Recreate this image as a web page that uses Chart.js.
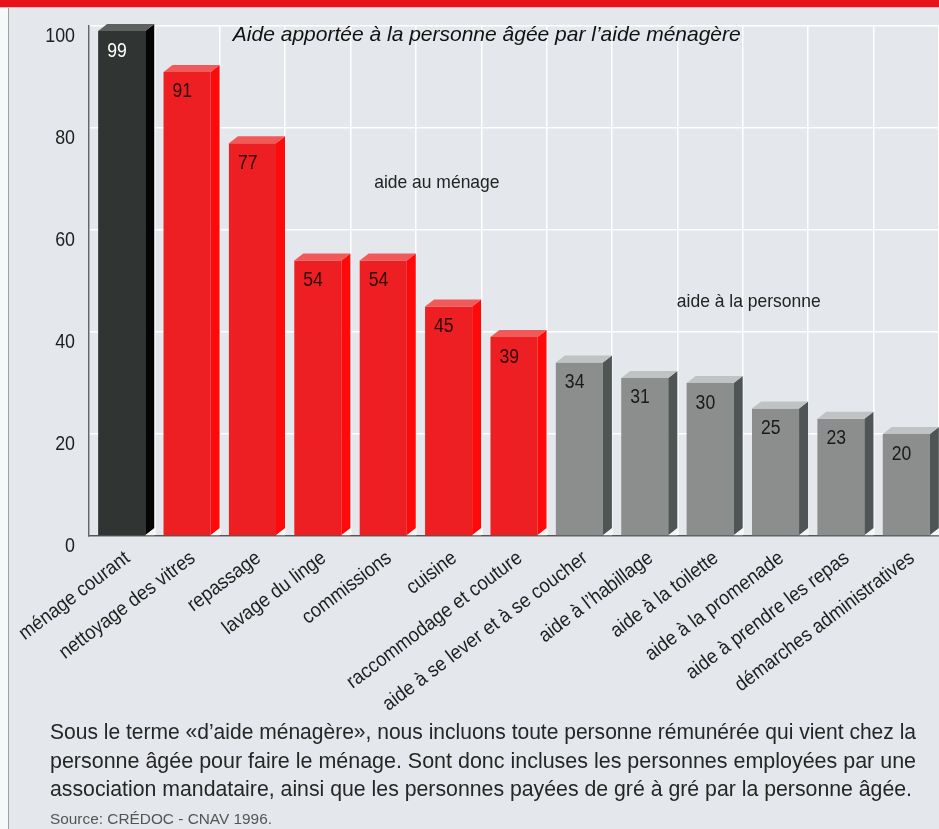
<!DOCTYPE html>
<html><head><meta charset="utf-8">
<script src="https://cdn.jsdelivr.net/npm/chart.js@4"></script>
<style>
html,body{margin:0;padding:0;}
body{width:939px;height:829px;overflow:hidden;background:#e4e7eb;position:relative;font-family:"Liberation Sans",Arial,sans-serif;}
#band{position:absolute;left:0;top:0;width:939px;height:7px;background:#e8121a;border-bottom:1px solid #f3b8bb;}
#edge{position:absolute;left:0;top:8px;width:8px;height:821px;background:#f7f8f9;border-right:1px solid #a0a0a0;}
#c{position:absolute;left:0;top:0;}
#note{position:absolute;left:50px;top:718px;font-size:22px;line-height:28.5px;color:#262626;}
#note div{white-space:nowrap;transform-origin:0 0;}
#src{position:absolute;left:50px;top:810px;font-size:15.5px;color:#555;transform-origin:0 0;white-space:nowrap;}
</style></head>
<body>
<div id="band"></div>
<div id="edge"></div>
<canvas id="c" width="939" height="829"></canvas>
<div id="note"></div>
<div id="src"></div>
<script>
// ---- data ----
const categories = ['ménage courant','nettoyage des vitres','repassage','lavage du linge','commissions','cuisine','raccommodage et couture','aide à se lever et à se coucher','aide à l’habillage','aide à la toilette','aide à la promenade','aide à prendre les repas','démarches administratives'];
const values = [99,91,77,54,54,45,39,34,31,30,25,23,20];
const groups = ['courant','menage','menage','menage','menage','menage','menage','personne','personne','personne','personne','personne','personne'];
const yTicks = [0,20,40,60,80,100];
const chartTitle = 'Aide apportée à la personne âgée par l’aide ménagère';
const groupNames = ['aide au ménage','aide à la personne'];
const noteLines = [
  'Sous le terme «d’aide ménagère», nous incluons toute personne rémunérée qui vient chez la',
  'personne âgée pour faire le ménage. Sont donc incluses les personnes employées par une',
  'association mandataire, ainsi que les personnes payées de gré à gré par la personne âgée.'
];
const sourceText = 'Source: CRÉDOC - CNAV 1996.';

// ---- styles ----
const FONT = '"Liberation Sans",Arial,sans-serif';
const palette = {
  courant:{front:'#303533',side:'#050505',top:'#5d6160',text:'#ffffff'},
  menage:{front:'#ee1f22',side:'#ff0a0a',top:'#f25a5a',text:'#2a0a0a'},
  personne:{front:'#8c8e8e',side:'#4f5454',top:'#c0c3c3',text:'#1a1a1a'}
};
const lineWidths = [866, 866, 862];

function txt(ctx, s, x, y, o){
  ctx.save();
  ctx.translate(x,y);
  if (o.angle) ctx.rotate(o.angle);
  ctx.scale(o.sx||1,1);
  ctx.font = (o.style?o.style+' ':'') + o.size+'px '+FONT;
  ctx.fillStyle = o.color||'#222';
  ctx.textAlign = o.align||'left';
  ctx.textBaseline = o.baseline||'middle';
  ctx.fillText(s,0,0);
  ctx.restore();
}

const threeD = {
  id:'threeD',
  afterDatasetsDraw(chart){
    const ctx = chart.ctx;
    const meta = chart.getDatasetMeta(0);
    const dx = 9, dy = 7;
    meta.data.forEach((bar,i)=>{
      const p = palette[groups[i]];
      const {x,y,base,width} = bar.getProps(['x','y','base','width'],true);
      const xl = x-width/2, xr = x+width/2;
      ctx.save();
      ctx.fillStyle = p.side;
      ctx.beginPath();
      ctx.moveTo(xr,y); ctx.lineTo(xr+dx,y-dy); ctx.lineTo(xr+dx,base-dy); ctx.lineTo(xr,base);
      ctx.closePath(); ctx.fill();
      ctx.fillStyle = '#f3f4f5';
      ctx.beginPath();
      ctx.moveTo(xr,base); ctx.lineTo(xr+dx,base-dy); ctx.lineTo(xr+dx,base);
      ctx.closePath(); ctx.fill();
      ctx.fillStyle = p.top;
      ctx.beginPath();
      ctx.moveTo(xl,y); ctx.lineTo(xl+dx,y-dy); ctx.lineTo(xr+dx,y-dy); ctx.lineTo(xr,y);
      ctx.closePath(); ctx.fill();
      ctx.restore();
      txt(ctx, String(values[i]), xl+9, y+10, {size:20, sx:0.88, baseline:'top', color:p.text});
    });
  },
  afterDraw(chart){
    const ctx = chart.ctx, xs = chart.scales.x, ys = chart.scales.y;
    yTicks.forEach(v=>{
      txt(ctx, String(v), xs.left-14, ys.getPixelForValue(v)+10, {size:21, sx:0.85, align:'right', color:'#1e1e1e'});
    });
    const ang = -37*Math.PI/180;
    categories.forEach((c,i)=>{
      txt(ctx, c, xs.getPixelForTick(i), ys.bottom+12, {size:20, sx:0.92, align:'right', baseline:'top', angle:ang, color:'#1e1e1e'});
    });
    txt(ctx, chartTitle, xs.getPixelForValue(1.7), ys.getPixelForValue(98.2), {size:21, style:'italic', color:'#111'});
    txt(ctx, groupNames[0], xs.getPixelForValue(4.82), ys.getPixelForValue(69.2), {size:19, sx:0.92, align:'center'});
    txt(ctx, groupNames[1], xs.getPixelForValue(9.59), ys.getPixelForValue(46), {size:19, sx:0.92, align:'center'});
  }
};

new Chart(document.getElementById('c'), {
  type:'bar',
  data:{labels:categories, datasets:[{data:values, backgroundColor:groups.map(g=>palette[g].front), barPercentage:0.72, categoryPercentage:1, borderWidth:0}]},
  options:{
    responsive:false, animation:false,
    layout:{padding:{top:26,left:0,right:0,bottom:0}},
    plugins:{legend:{display:false}, tooltip:{enabled:false}},
    scales:{
      x:{
        grid:{color:'#ffffff',lineWidth:1.5,drawTicks:false,offset:true},
        border:{color:'#555',width:1.5},
        ticks:{display:false,autoSkip:false},
        afterFit(s){ s.height = 829-536; }
      },
      y:{
        min:0,max:100,
        afterBuildTicks(s){ s.ticks = yTicks.map(v=>({value:v})); },
        ticks:{display:false},
        grid:{color:'#ffffff',lineWidth:1.5,drawTicks:false},
        border:{color:'#666',width:1.5},
        afterFit(s){ s.width = 89; }
      }
    }
  },
  plugins:[threeD]
});

// ---- text block below the chart ----
(function(){
  const m = document.createElement('canvas').getContext('2d');
  m.font = '22px '+FONT;
  const note = document.getElementById('note');
  noteLines.forEach((l,i)=>{
    const d = document.createElement('div');
    d.textContent = l;
    const w = m.measureText(l).width;
    d.style.width = w+'px';
    d.style.transform = 'scaleX('+(lineWidths[i]/w)+')';
    note.appendChild(d);
  });
  m.font = '15.5px '+FONT;
  const src = document.getElementById('src');
  src.textContent = sourceText;
  src.style.transform = 'scaleX('+(222/m.measureText(sourceText).width)+')';
})();
</script>
</body></html>
